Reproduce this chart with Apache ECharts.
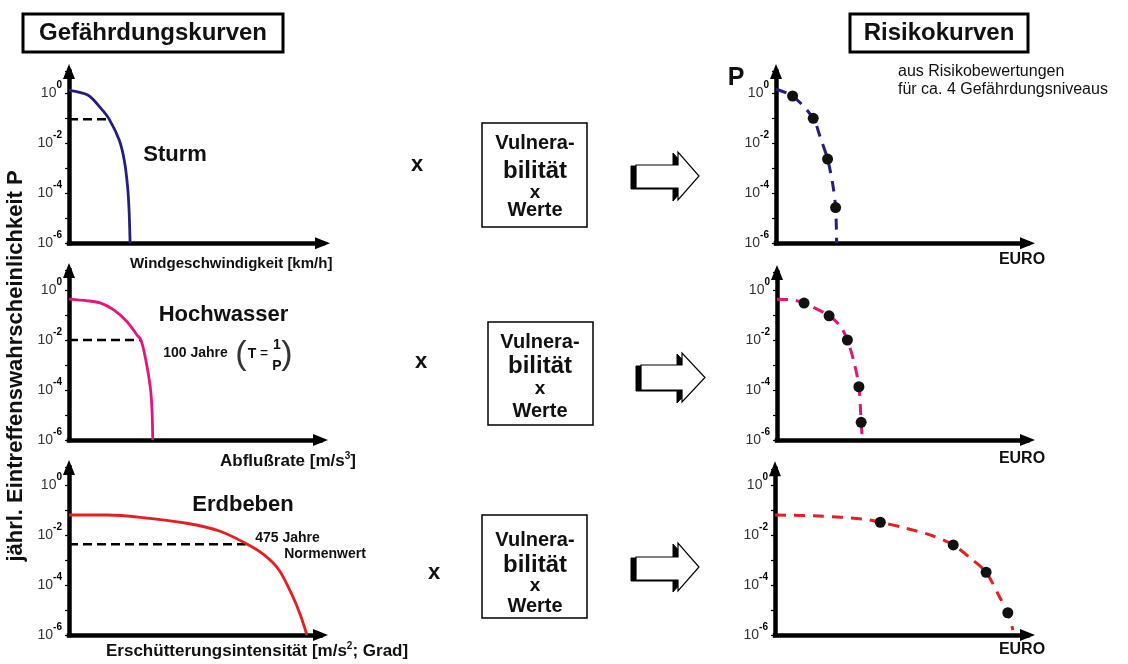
<!DOCTYPE html>
<html>
<head>
<meta charset="utf-8">
<script src="https://cdn.jsdelivr.net/npm/echarts@6/dist/echarts.min.js"></script>
<style>
  html, body { margin: 0; padding: 0; background: #fff; }
  #chart { width: 1128px; height: 664px; }
</style>
</head>
<body>
<div id="chart"></div>
<script>
// Gefährdungskurven (hazard curves), x = intensity in relative units 0..100, P = annual probability
const sturmX = [0, 7.4, 12.6, 15.9, 19.8, 21.8, 23.1, 23.7, 24.1]
const sturmP = [1.32, 0.85, 0.25, 0.091, 0.0135, 0.0021, 0.00019, 0.000021, 0.000001]
const sturmRef = 0.091
const sturmRefX = 15.9

const hochX = [0, 7.4, 12.6, 17.8, 23.1, 27, 28.6, 30.3, 32.3, 33, 33.3]
const hochP = [0.43, 0.37, 0.3, 0.16, 0.054, 0.016, 0.01, 0.0021, 0.000135, 0.000016, 0.000001]
const hochRef = 0.01
const hochRefX = 28.6

const erdX = [0, 15.2, 28.3, 46.7, 59.8, 70.9, 77.6, 83.5, 88.7, 92, 94.6]
const erdP = [0.063, 0.063, 0.051, 0.0295, 0.0145, 0.0043, 0.0016, 0.0004, 0.00004, 0.0000063, 0.000001]
const erdRef = 0.0043
const erdRefX = 70.9

// Risikokurven (risk curves), x = EURO in relative units 0..100
const risk1X = [0, 6.6, 14.8, 17.5, 20.5, 22.5, 23.7, 24.1]
const risk1P = [1.45, 0.78, 0.1, 0.0186, 0.00234, 0.00025, 0.0000269, 0.000001]
const risk1DotX = [6.6, 14.8, 20.5, 23.7]
const risk1DotP = [0.78, 0.1, 0.00234, 0.0000269]

const risk2X = [0, 6.2, 10.8, 20.8, 25.4, 28.1, 30.7, 32.7, 33.6, 34]
const risk2P = [0.43, 0.4, 0.3, 0.093, 0.034, 0.01, 0.00135, 0.000135, 0.0000051, 0.00000135]
const risk2DotX = [10.8, 20.8, 28.1, 32.7, 33.6]
const risk2DotP = [0.3, 0.093, 0.01, 0.000135, 0.0000051]

const risk3X = [0, 17.5, 34.6, 41.7, 51.9, 62.4, 70.6, 78.3, 83.6, 88.9, 92.2, 94.2]
const risk3P = [0.063, 0.0575, 0.0437, 0.0324, 0.0186, 0.0093, 0.004, 0.001, 0.000324, 0.0000339, 0.00000776, 0.00000158]
const risk3DotX = [41.7, 70.6, 83.6, 92.2]
const risk3DotP = [0.0324, 0.004, 0.000324, 0.00000776]

// y tick labels: only even exponents are labelled
const tickExponents = ['0', '-2', '-4', '-6']

const zip = (xs, ys) => xs.map((x, i) => [x, ys[i]])

const FONT = '"Liberation Sans", Arial, sans-serif'
const NAVY = '#231f7f'
const PINK = '#e2157f'
const RED = '#e3201f'

// pixel layout of the six small plots: y0 = y of 10^0, y6 = y of 10^-6
const panels = [
  { left: 69, right: 322.5, y0: 93.3, y6: 243.3, topExp: 0.87 },
  { left: 69, right: 320.5, y0: 290, y6: 440, topExp: 0.78 },
  { left: 69, right: 320.5, y0: 485, y6: 635, topExp: 0.7 },
  { left: 776, right: 1027.5, y0: 93.3, y6: 243.3, topExp: 0.87 },
  { left: 777, right: 1027.5, y0: 290, y6: 440, topExp: 0.7 },
  { left: 775, right: 1027.5, y0: 485, y6: 635, topExp: 0.65 }
]

const grids = panels.map(p => {
  const top = p.y0 - (p.y6 - p.y0) / 6 * p.topExp
  return { left: p.left, top: top, width: p.right - p.left, height: p.y6 - top, outerBoundsMode: 'none' }
})

const axisLine = {
  show: true,
  onZero: false,
  symbol: ['none', 'triangle'],
  symbolSize: [12, 15],
  lineStyle: { color: '#000', width: 4.5, cap: 'square' }
}

const xAxes = panels.map((p, i) => ({
  type: 'value',
  gridIndex: i,
  min: 0,
  max: 100,
  axisLine: axisLine,
  axisTick: { show: false },
  axisLabel: { show: false },
  splitLine: { show: false }
}))

const yAxes = panels.map((p, i) => ({
  type: 'log',
  logBase: 10,
  gridIndex: i,
  min: 0.000001,
  max: Math.pow(10, p.topExp),
  axisLine: axisLine,
  axisTick: { show: true, length: 4, lineStyle: { color: '#000', width: 1.2 } },
  splitLine: { show: false },
  axisLabel: {
    margin: 7,
    formatter: v => {
      const e = Math.log10(v)
      const r = Math.round(e)
      if (Math.abs(e - r) > 1e-6) return ''
      const s = String(r === 0 ? 0 : r)
      if (tickExponents.indexOf(s) < 0) return ''
      return '{b|10}{s|' + s + '}'
    },
    rich: {
      b: { fontSize: 14, fontFamily: FONT, color: '#333', verticalAlign: 'bottom', lineHeight: 14 },
      s: { fontSize: 10, fontFamily: FONT, fontWeight: 'bold', color: '#000', verticalAlign: 'bottom', lineHeight: 10, padding: [0, 0, 10, 0] }
    }
  }
}))

function curve(i, xs, ps, color) {
  return {
    type: 'line', xAxisIndex: i, yAxisIndex: i, data: zip(xs, ps),
    smooth: 0.3, showSymbol: false, silent: true,
    lineStyle: { color: color, width: 2.8 }
  }
}
function refLine(i, x, p) {
  return {
    type: 'line', xAxisIndex: i, yAxisIndex: i, data: [[0, p], [x, p]],
    showSymbol: false, silent: true,
    lineStyle: { color: '#000', width: 2.5, type: [9, 5] }
  }
}
function riskCurve(i, xs, ps, color) {
  return {
    type: 'line', xAxisIndex: i, yAxisIndex: i, data: zip(xs, ps),
    smooth: 0.3, showSymbol: false, silent: true,
    lineStyle: { color: color, width: 3, type: [11, 8] }
  }
}
function dots(i, xs, ps) {
  return {
    type: 'scatter', xAxisIndex: i, yAxisIndex: i, data: zip(xs, ps),
    symbol: 'circle', symbolSize: 11, silent: true, z: 5,
    itemStyle: { color: '#111', opacity: 1 }
  }
}

function txt(text, x, y, size, opts) {
  opts = opts || {}
  return {
    type: 'text', x: x, y: y, rotation: opts.rotation || 0, z: 10,
    style: {
      text: text, fontSize: size, fontFamily: FONT,
      fontWeight: opts.weight || 'bold', fill: opts.color || '#111',
      align: opts.align || 'center', textAlign: opts.align || 'center',
      verticalAlign: 'middle', textVerticalAlign: 'middle',
      rich: opts.rich
    }
  }
}
function box(x, y, w, h, lw) {
  return { type: 'rect', shape: { x: x, y: y, width: w, height: h }, z: 9,
    style: { fill: '#fff', stroke: '#000', lineWidth: lw } }
}
function blockArrow(x0, xb, tip, sTop, sBot, hTop, hBot) {
  const yc = (hTop + hBot) / 2
  const pts = [[x0, sTop], [xb, sTop], [xb, hTop], [tip, yc], [xb, hBot], [xb, sBot], [x0, sBot]]
  const shadow = pts.map(q => [q[0] - 5, q[1] + 1])
  return [
    { type: 'polygon', shape: { points: shadow }, z: 9, style: { fill: '#000', stroke: '#000', lineWidth: 1 } },
    { type: 'polygon', shape: { points: pts }, z: 10, style: { fill: '#fff', stroke: '#000', lineWidth: 1.2 } }
  ]
}
function vulnBox(x, y, w, h, cx, lines) {
  return [
    box(x, y, w, h, 1.5),
    txt('Vulnera-', cx, lines[0], 20),
    txt('bilität', cx, lines[1], 24),
    txt('x', cx, lines[2], 19),
    txt('Werte', cx, lines[3], 20)
  ]
}

function supRich(size) {
  return {
    t: { fontSize: size, fontFamily: FONT, fontWeight: 'bold', color: '#111', verticalAlign: 'bottom', lineHeight: size + 1 },
    s: { fontSize: 10, fontFamily: FONT, fontWeight: 'bold', color: '#111', verticalAlign: 'bottom', lineHeight: 10, padding: [0, 0, 9, 0] }
  }
}

const graphics = [].concat(
  [
    box(23, 14, 260, 38, 3),
    txt('Gefährdungskurven', 153, 33, 24),
    box(850, 14, 178, 38, 3),
    txt('Risikokurven', 939, 33, 24),
    txt('P', 736, 78, 25),
    txt('aus Risikobewertungen', 898, 72, 16, { weight: 'normal', align: 'left' }),
    txt('für ca. 4 Gefährdungsniveaus', 898, 90, 16, { weight: 'normal', align: 'left' }),
    txt('jährl. Eintreffenswahrscheinlichkeit P', 16, 366, 22, { rotation: Math.PI / 2 }),
    txt('Sturm', 175, 155, 22),
    txt('Hochwasser', 223.5, 315, 22),
    txt('Erdbeben', 243, 505, 22),
    txt('100 Jahre', 195.5, 353, 14),
    txt('(', 241, 355, 34, { weight: 'normal', color: '#333' }),
    txt('T', 252, 354, 14),
    txt('=', 264, 354, 14, { weight: 'normal' }),
    txt('1', 277, 345, 14),
    txt('P', 277, 366, 14),
    txt(')', 287, 355, 34, { weight: 'normal', color: '#333' }),
    txt('475 Jahre', 287.5, 538, 14),
    txt('Normenwert', 325, 554, 14),
    txt('{t|Windgeschwindigkeit [km/h]}', 130, 263, 15, { align: 'left', rich: supRich(15) }),
    txt('{t|Abflußrate [m/s}{s|3}{t|]}', 220, 461, 17, { align: 'left', rich: supRich(17) }),
    txt('{t|Erschütterungsintensität [m/s}{s|2}{t|; Grad]}', 106, 651, 17, { align: 'left', rich: supRich(17) }),
    txt('EURO', 1022, 260, 16),
    txt('EURO', 1022, 459, 16),
    txt('EURO', 1022, 650, 16),
    txt('x', 417, 165, 22),
    txt('x', 421, 362, 22),
    txt('x', 434, 573, 22)
  ],
  vulnBox(482, 123, 105, 104, 535, [143, 171, 193, 210]),
  vulnBox(488, 322, 105, 103, 540, [342, 366, 389, 411]),
  vulnBox(482, 515, 105, 103, 535, [540, 565, 586, 606]),
  blockArrow(636, 678, 699, 165, 188, 152, 200),
  blockArrow(641, 682, 705, 365, 390, 353, 402),
  blockArrow(636, 678, 699, 557, 580, 543, 591)
)

const chart = echarts.init(document.getElementById('chart'))
chart.setOption({
  backgroundColor: '#fff',
  animation: false,
  grid: grids,
  xAxis: xAxes,
  yAxis: yAxes,
  series: [
    refLine(0, sturmRefX, sturmRef),
    curve(0, sturmX, sturmP, NAVY),
    refLine(1, hochRefX, hochRef),
    curve(1, hochX, hochP, PINK),
    refLine(2, erdRefX, erdRef),
    curve(2, erdX, erdP, RED),
    riskCurve(3, risk1X, risk1P, NAVY),
    dots(3, risk1DotX, risk1DotP),
    riskCurve(4, risk2X, risk2P, PINK),
    dots(4, risk2DotX, risk2DotP),
    riskCurve(5, risk3X, risk3P, RED),
    dots(5, risk3DotX, risk3DotP)
  ],
  graphic: graphics
})
</script>
</body>
</html>
